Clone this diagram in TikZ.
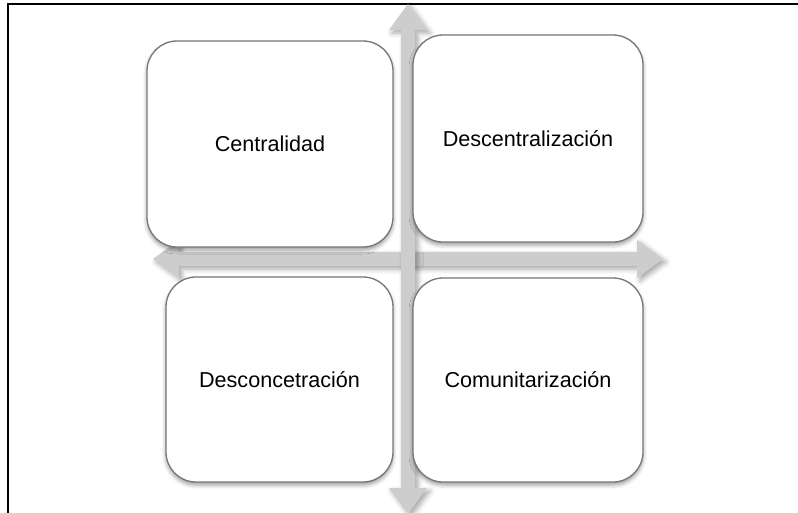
\documentclass[tikz,border=0pt]{standalone}
\usepackage{fontspec}
\setmainfont{Liberation Sans}
\usetikzlibrary{shadows.blur}

\definecolor{boxgray}{RGB}{118,118,118}
\definecolor{axisgray}{RGB}{205,205,205}

\tikzset{
  quadbox/.style={draw=boxgray, line width=1.3pt, fill=white, rounded corners=30pt,
    inner sep=0pt, font=\fontsize{21.6}{26}\selectfont,
    blur shadow={shadow xshift=0pt, shadow yshift=-3pt, shadow blur radius=4pt, shadow opacity=40}},
  axisarrow/.style={fill=axisgray,
    blur shadow={shadow xshift=3pt, shadow yshift=-3pt, shadow blur radius=5pt, shadow opacity=35}}
}

\begin{document}
\begin{tikzpicture}[x=1pt, y=-1pt]
\useasboundingbox (0,0) rectangle (798,512);
\draw[line width=2pt] (7.5,520) -- (7.5,4) -- (805,4);

\coordinate (mid) at (408,259);
\foreach \ang in {0,90}
  \path[axisarrow, shift={(mid)}, rotate=\ang]
    (-255,0) -- (-229,-19) -- (-229,-7) -- (229,-7) -- (229,-19) -- (255,0)
    -- (229,19) -- (229,7) -- (-229,7) -- (-229,19) -- cycle;

\node[quadbox, minimum width=246pt, minimum height=206pt] (centr) at (270,144) {Centralidad};
\node[quadbox, minimum width=230pt, minimum height=207pt] (descentr) at (528,138.5) {Descentralización};
\node[quadbox, minimum width=227pt, minimum height=205pt] (descon) at (279.5,379.5) {Desconcetración};
\node[quadbox, minimum width=230pt, minimum height=204pt] (comun) at (528,380) {Comunitarización};
\end{tikzpicture}
\end{document}
